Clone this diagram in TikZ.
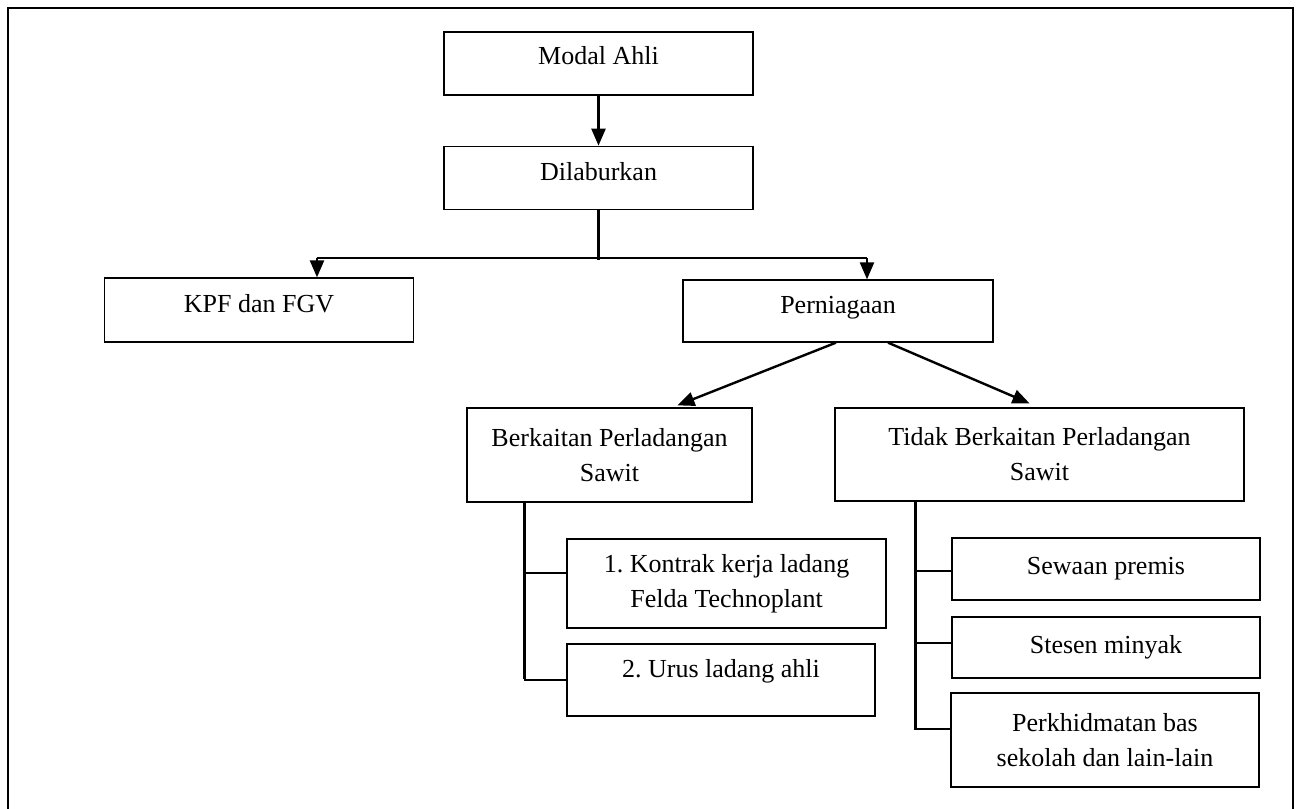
\documentclass[tikz,border=0pt]{standalone}
\usepackage{fontspec}
\setmainfont{Liberation Serif}
\frenchspacing
\usetikzlibrary{positioning}
\usetikzlibrary{calc,arrows.meta}

\begin{document}
\begin{tikzpicture}[x=1pt,y=-1pt,
                    box/.style={rectangle,
                                draw=black,
                                line width=1.3pt,
                                align=center,
                                inner sep=0pt,
                                font=\fontsize{26}{35}\selectfont
                               },
                    link/.style={
                                line width=2.4pt
                                },
                    linkarrow/.style={
                                line width=2.4pt,
                                -{Triangle[length=17pt,width=14pt]}
                                }
                   ]
\useasboundingbox (0,0) rectangle (1300,808);
\draw[line width=2.8pt] (8,815) -- (8,8) -- (1293,8) -- (1293,815);

\node[box,minimum width=309pt,minimum height=63pt,text depth=17pt] (modal) at (598.5,63.5) {Modal Ahli};
\node[box,minimum width=309pt,minimum height=63pt,text depth=12pt,below=50pt of modal] (laburan) {Dilaburkan};
\node[box,minimum width=309pt,minimum height=64pt,text depth=14pt] (kpf) at (259,310) {KPF dan FGV};
\node[box,minimum width=310pt,minimum height=62pt,text depth=12pt] (niaga) at (838,311) {Perniagaan};
\node[box,minimum width=285pt,minimum height=94pt] (berkait) at (609.5,455) {Berkaitan Perladangan\\Sawit};
\node[box,minimum width=409pt,minimum height=93pt] (tidak) at (1039.5,454.5) {Tidak Berkaitan Perladangan\\Sawit};
\node[box,minimum width=319pt,minimum height=89pt] (kontrak) at (726.5,583.5) {1. Kontrak kerja ladang\\Felda Technoplant};
\node[box,minimum width=308pt,minimum height=72pt,text depth=24pt] (urus) at (721,680) {2. Urus ladang ahli};
\node[box,minimum width=308pt,minimum height=62pt] (sewa) at (1106,569) {Sewaan premis};
\node[box,minimum width=308pt,minimum height=61pt] (stesen) at (1106,647.5) {Stesen minyak};
\node[box,minimum width=308pt,minimum height=94pt] (bas) at (1105,740) {Perkhidmatan bas\\sekolah dan lain-lain};

% modal ke pelaburan
\draw[linkarrow] (modal) -- (laburan);
\coordinate (pecah) at ($(laburan.south)+(0,50)$);
\coordinate (pecahL) at (317,258);
\coordinate (pecahR) at (867,258);
\draw[link] (laburan.south) -- (pecah);
\draw[link] (pecahL) -- (pecahR);
\draw[linkarrow] (pecahL) -- (pecahL |- kpf.north);
\draw[linkarrow] (pecahR) -- (pecahR |- niaga.north);

% perniagaan
\draw[linkarrow] ($(niaga.south)+(-2,0)$) -- ($(berkait.north)+(68,-2)$);
\draw[linkarrow] ($(niaga.south)+(50,0)$) -- ($(tidak.north)+(-10,-4)$);

% cabang berkaitan
\coordinate (batangA) at ($(berkait.south west)+(58,0)$);
\draw[link] (batangA) -- ++(0,176);
\draw[link] (batangA |- 0,573) -- (kontrak.west |- 0,573);
\draw[link] (batangA |- urus.west) -- (urus.west);

% cabang tidak berkaitan
\coordinate (batangB) at ($(tidak.south west)+(81,0)$);
\draw[link] (batangB) -- ++(0,228);
\draw[link] (batangB |- 0,571) -- (sewa.west |- 0,571);
\draw[link] (batangB |- 0,643) -- (stesen.west |- 0,643);
\draw[link] (batangB |- 0,729) -- (bas.west |- 0,729);
\end{tikzpicture}
\end{document}
